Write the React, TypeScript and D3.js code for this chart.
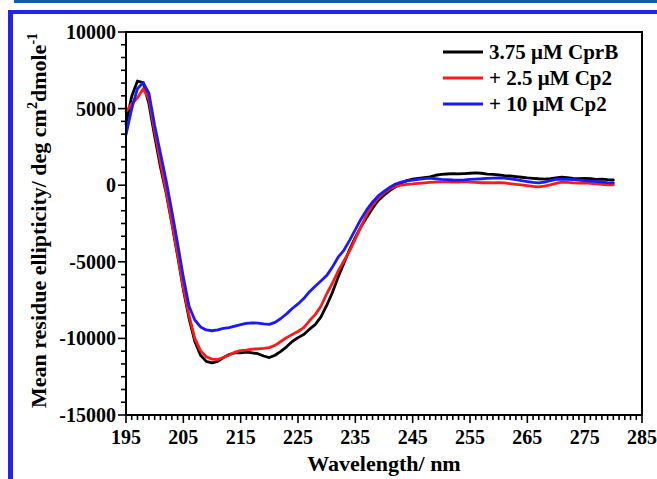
import React from "react";
import * as d3 from "d3";

// Sampling grid (nm)
const wavelengths: number[] = d3.range(195, 281);

// Mean residue ellipticity (deg cm2 dmole-1) for each wavelength
const cprB: number[] = [
  4000, 5800, 6800, 6700, 5300, 3200, 1200, -500, -2500, -4600,
  -6800, -8700, -10200, -11100, -11500, -11600, -11500, -11250, -11050, -10950,
  -10950, -10900, -10950, -11000, -11150, -11250, -11100, -10850, -10550, -10200,
  -9950, -9750, -9400, -9100, -8600, -7850, -7000, -6000, -5100, -4200,
  -3400, -2700, -2100, -1500, -1000, -650, -350, -100, 150, 300,
  400, 450, 500, 550, 650, 700, 730, 750, 740, 760,
  780, 800, 780, 720, 700, 680, 620, 600, 560, 520,
  480, 450, 420, 400, 430, 480, 530, 500, 450, 420,
  450, 420, 380, 400, 360, 340,
];

const cp2Low: number[] = [
  4800, 5300, 5700, 6300, 5600, 3500, 1500, -400, -2400, -4500,
  -6700, -8500, -10000, -10800, -11200, -11350, -11380, -11250, -11080, -10900,
  -10800, -10760, -10700, -10680, -10650, -10600, -10450, -10200, -9950, -9750,
  -9550, -9300, -8850, -8450, -7900, -7100, -6400, -5600, -4950, -4300,
  -3500, -2700, -1900, -1300, -850, -500, -250, -80, 0, 50,
  80, 120, 150, 180, 200, 220, 220, 200, 210, 230,
  200, 180, 160, 170, 150, 170, 150, 100, 60, 20,
  -30, -80, -110, -60, 20, 120, 200, 180, 150, 130,
  160, 120, 80, 60, 30, 20,
];

const cp2High: number[] = [
  3300, 5000, 6300, 6700, 6000, 3900, 2100, 300, -1700, -3800,
  -6000, -7900, -8800, -9250, -9450, -9500, -9450, -9350, -9300, -9200,
  -9100, -9020, -8980, -9000, -9050, -9080, -8950, -8700, -8400, -8050,
  -7750, -7400, -6950, -6600, -6250, -5900, -5350, -4700, -4250, -3600,
  -2900, -2200, -1600, -1100, -700, -400, -150, 80, 200, 280,
  330, 380, 430, 460, 420, 380, 360, 340, 330, 350,
  380, 400, 420, 450, 460, 470, 460, 420, 360, 300,
  240, 180, 150, 200, 300, 380, 400, 380, 360, 330,
  300, 260, 240, 200, 170, 150,
];

const seriesNames = ["3.75 \u03bcM CprB", "+ 2.5 \u03bcM Cp2", "+ 10 \u03bcM Cp2"];
const seriesColors = ["#000000", "#ff1a1a", "#1a1aff"];
const seriesValues = [cprB, cp2Low, cp2High];

const xTickValues = [195, 205, 215, 225, 235, 245, 255, 265, 275, 285];
const yTickValues = [-15000, -10000, -5000, 0, 5000, 10000];

const W = 657;
const H = 479;
const plot = { left: 126, right: 642, top: 32, bottom: 415 };
const FONT = "'Liberation Serif', 'Times New Roman', serif";

export default function App() {
  const x = d3.scaleLinear().domain([195, 285]).range([plot.left, plot.right]);
  const y = d3.scaleLinear().domain([-15000, 10000]).range([plot.bottom, plot.top]);

  const line = d3
    .line<[number, number]>()
    .x((d) => x(d[0]))
    .y((d) => y(d[1]));

  // minor ticks: every 1 nm on x, five between majors on y
  const xMinor = d3.range(195, 286, 1).filter((v) => (v - 195) % 10 !== 0);
  const yMinor = d3
    .range(0, 31)
    .map((i) => -15000 + (i * 5000) / 6)
    .filter((_, i) => i % 6 !== 0);

  return (
    <div style={{ position: "fixed", left: 0, top: 0, width: W, height: H, background: "#fff" }}>
      <svg width={W} height={H} style={{ display: "block" }}>
        <rect x={0} y={0} width={W} height={H} fill="#ffffff" />
        {/* page decoration */}
        <rect x={14} y={0} width={W - 14} height={3} fill="#1b58a6" />
        <rect x={8} y={10} width={W - 8} height={4} fill="#2323ee" />
        <rect x={8} y={10} width={5} height={H - 10} fill="#2323ee" />

        {/* curves */}
        <g fill="none" strokeWidth={2.8} strokeLinejoin="round" strokeLinecap="round">
          {seriesValues.map((vals, si) => (
            <path
              key={si}
              d={line(wavelengths.map((w, i) => [w, vals[i]] as [number, number])) || ""}
              stroke={seriesColors[si]}
            />
          ))}
        </g>

        {/* frame */}
        <rect
          x={plot.left}
          y={plot.top}
          width={plot.right - plot.left}
          height={plot.bottom - plot.top}
          fill="none"
          stroke="#000"
          strokeWidth={2}
        />

        {/* ticks */}
        <g stroke="#000" strokeWidth={1.6}>
          {xTickValues.map((v) => (
            <line key={"xM" + v} x1={x(v)} x2={x(v)} y1={plot.bottom} y2={plot.bottom + 8} />
          ))}
          {xMinor.map((v) => (
            <line key={"xm" + v} x1={x(v)} x2={x(v)} y1={plot.bottom} y2={plot.bottom + 5} />
          ))}
          {yTickValues.map((v) => (
            <line key={"yM" + v} x1={plot.left - 8} x2={plot.left} y1={y(v)} y2={y(v)} />
          ))}
          {yMinor.map((v, i) => (
            <line key={"ym" + i} x1={plot.left - 5} x2={plot.left} y1={y(v)} y2={y(v)} />
          ))}
        </g>

        <g fontFamily={FONT} fontWeight="bold" fontSize={20} fill="#000">
          {xTickValues.map((v) => (
            <text key={"xl" + v} x={x(v)} y={plot.bottom + 29} textAnchor="middle">
              {v}
            </text>
          ))}
          {yTickValues.map((v) => (
            <text key={"yl" + v} x={plot.left - 10} y={y(v) + 7} textAnchor="end">
              {v}
            </text>
          ))}
        </g>

        {/* axis titles */}
        <text
          x={(plot.left + plot.right) / 2}
          y={471}
          textAnchor="middle"
          fontFamily={FONT}
          fontWeight="bold"
          fontSize={22}
        >
          Wavelength/ nm
        </text>
        <text
          transform={`translate(46, ${(plot.top + plot.bottom) / 2 - 3}) rotate(-90)`}
          textAnchor="middle"
          fontFamily={FONT}
          fontWeight="bold"
          fontSize={22}
        >
          Mean residue ellipticity/ deg cm
          <tspan fontSize={14} dy={-9}>2</tspan>
          <tspan dy={9}>dmole</tspan>
          <tspan fontSize={14} dy={-9}>-1</tspan>
        </text>

        {/* legend */}
        <g fontFamily={FONT} fontWeight="bold" fontSize={21}>
          {seriesNames.map((name, i) => {
            const cy = 52 + i * 26;
            return (
              <g key={name}>
                <line x1={443} x2={483} y1={cy} y2={cy} stroke={seriesColors[i]} strokeWidth={3} />
                <text x={489} y={cy + 7}>
                  {name}
                </text>
              </g>
            );
          })}
        </g>
      </svg>
    </div>
  );
}
